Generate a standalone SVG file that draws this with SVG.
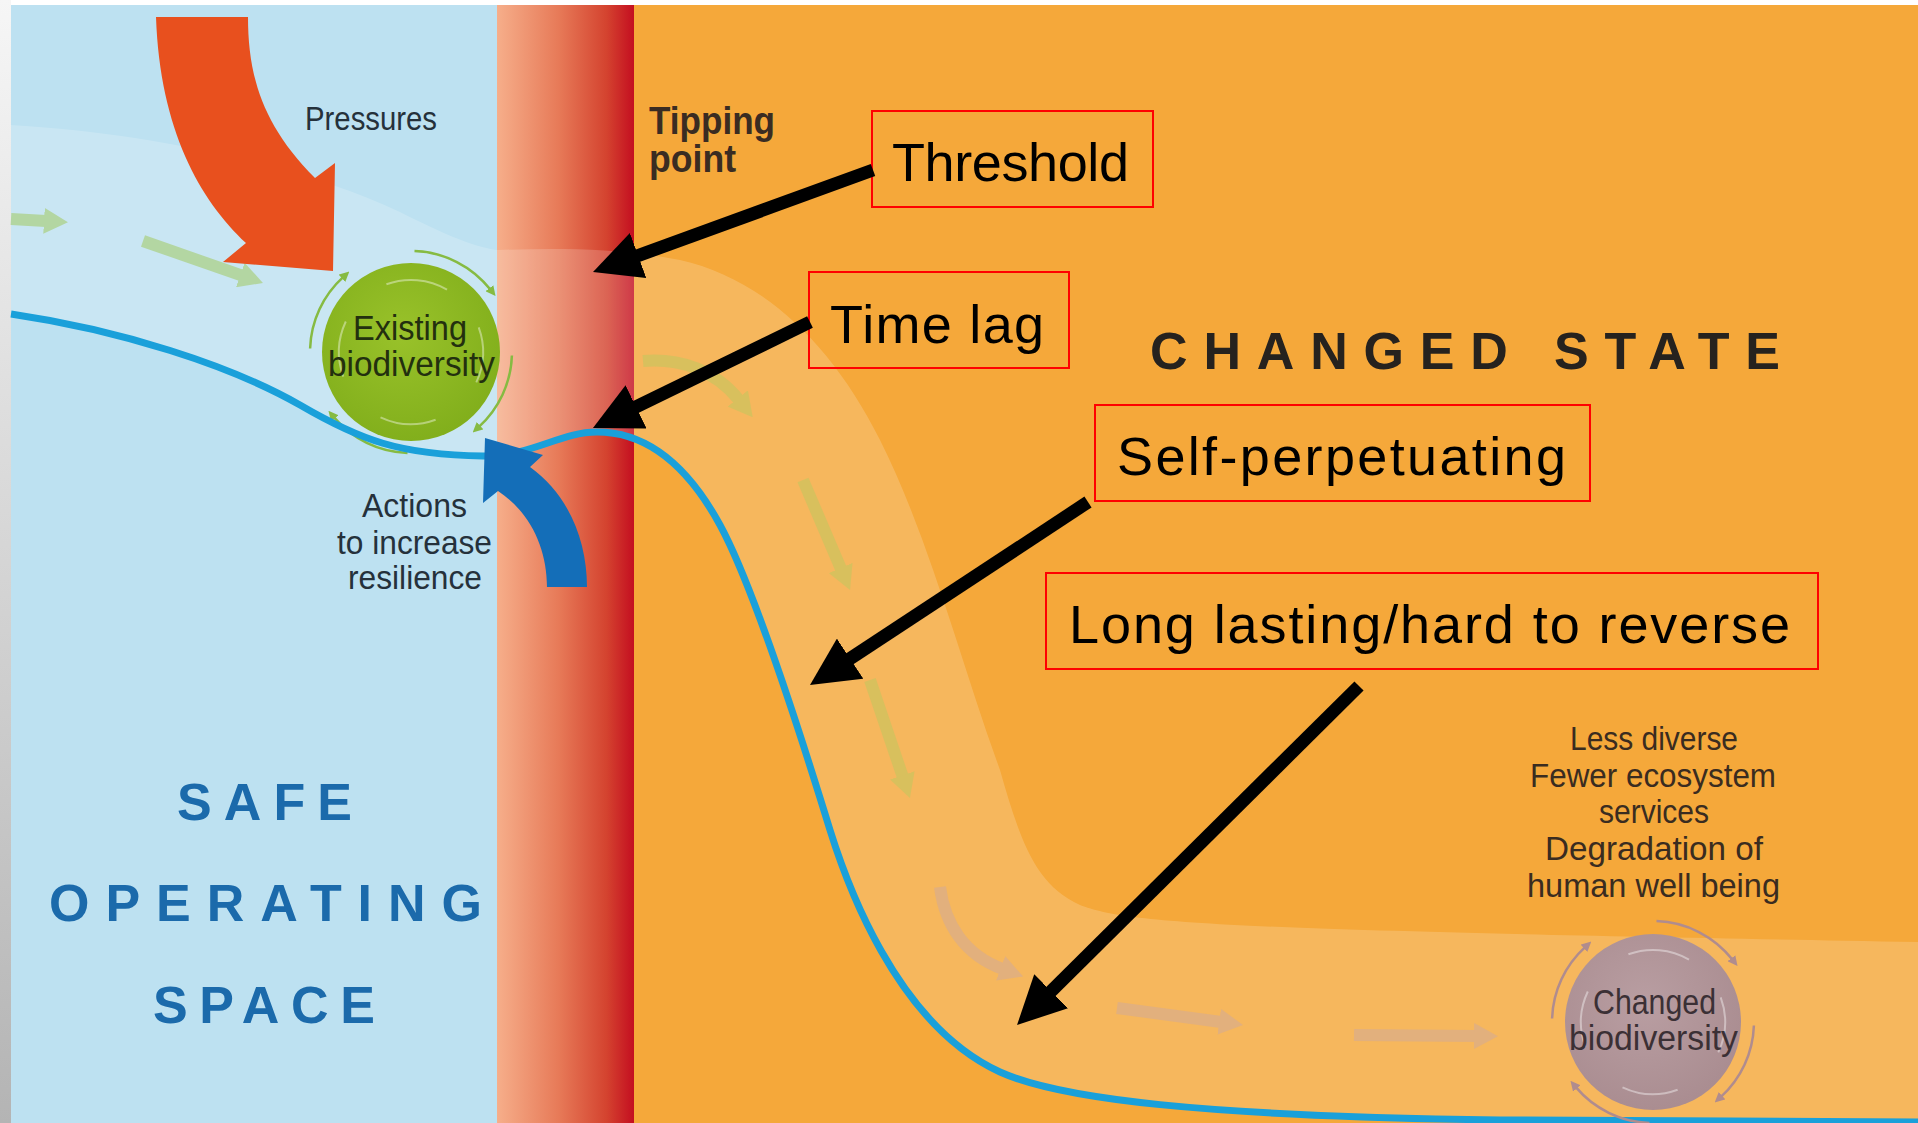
<svg xmlns="http://www.w3.org/2000/svg" width="1918" height="1123" viewBox="0 0 1918 1123">
<defs>
<linearGradient id="redBand" x1="0" y1="0" x2="1" y2="0">
<stop offset="0" stop-color="#f6ae8a"/>
<stop offset="0.45" stop-color="#e77a58"/>
<stop offset="0.8" stop-color="#d4432f"/>
<stop offset="1" stop-color="#c40e20"/>
</linearGradient>
<linearGradient id="edge" x1="0" y1="0" x2="0" y2="1">
<stop offset="0" stop-color="#f6f6f6"/>
<stop offset="1" stop-color="#b4b4b4"/>
</linearGradient>
<radialGradient id="greenFill" cx="0.45" cy="0.4" r="0.6">
<stop offset="0" stop-color="#99c22a"/>
<stop offset="1" stop-color="#82af1c"/>
</radialGradient>
<radialGradient id="mauveFill" cx="0.45" cy="0.4" r="0.6">
<stop offset="0" stop-color="#b99ea2"/>
<stop offset="1" stop-color="#aa8d91"/>
</radialGradient>
<marker id="blackHead" markerUnits="userSpaceOnUse" markerWidth="48" markerHeight="48" viewBox="0 0 48 48" refX="3" refY="24" orient="auto">
<path d="M0,0 L48,24 L0,48 Z" fill="#000"/>
</marker>
<marker id="fhB" markerUnits="userSpaceOnUse" markerWidth="24" markerHeight="26" viewBox="0 0 24 26" refX="2" refY="13" orient="auto">
<path d="M0,0 L24,13 L0,26 Z" fill="#b3d6a2"/>
</marker>
<marker id="fhG" markerUnits="userSpaceOnUse" markerWidth="24" markerHeight="26" viewBox="0 0 24 26" refX="2" refY="13" orient="auto">
<path d="M0,0 L24,13 L0,26 Z" fill="#cfc35e"/>
</marker>
<marker id="fhT" markerUnits="userSpaceOnUse" markerWidth="24" markerHeight="26" viewBox="0 0 24 26" refX="2" refY="13" orient="auto">
<path d="M0,0 L24,13 L0,26 Z" fill="#dcae88"/>
</marker>
<marker id="arcHG" markerUnits="userSpaceOnUse" markerWidth="10" markerHeight="10" viewBox="0 0 10 10" refX="2" refY="5" orient="auto">
<path d="M0,0 L10,5 L0,10 Z" fill="#86bb42"/>
</marker>
<marker id="arcHM" markerUnits="userSpaceOnUse" markerWidth="10" markerHeight="10" viewBox="0 0 10 10" refX="2" refY="5" orient="auto">
<path d="M0,0 L10,5 L0,10 Z" fill="#b08c8e"/>
</marker>
</defs>
<style>
text{font-family:"Liberation Sans",Arial,sans-serif}
.dark{fill:#25313b;font-size:34px}
.circ{fill:#23300f;font-size:35px}
.circM{fill:#3b3035;font-size:35px}
.brown{fill:#3a2c20;font-size:33px}
.tip{fill:#3a2c22;font-size:38px;font-weight:bold}
.safe{fill:#1b6aab;font-size:52px;font-weight:bold}
.state{fill:#26221e;font-size:52px;font-weight:bold}
.ann{font-size:54px;fill:#000}
.box{fill:none;stroke:#ff0000;stroke-width:2}
.conn{stroke:#000;stroke-width:13;fill:none;marker-end:url(#blackHead)}
.flowB{stroke:#b3d6a2;stroke-width:12;fill:none;marker-end:url(#fhB)}
.flowG{stroke:#cfc35e;stroke-width:12;fill:none;marker-end:url(#fhG);opacity:0.75}
.flowT{stroke:#dcae88;stroke-width:12;fill:none;marker-end:url(#fhT);opacity:0.75}
.arcG{fill:none;stroke:#86bb42;stroke-width:2.5;marker-end:url(#arcHG)}
.arcM{fill:none;stroke:#b08c8e;stroke-width:2.5;marker-end:url(#arcHM)}
.inner{fill:none;stroke:#ffffff;stroke-opacity:0.4;stroke-width:2}
</style>

<g id="background">
<rect x="0" y="0" width="1918" height="1123" fill="#ffffff"/>
<rect x="0" y="0" width="11" height="1123" fill="url(#edge)"/>
<rect x="11" y="5" width="486" height="1118" fill="#bde1f1"/>
<rect x="497" y="5" width="137" height="1118" fill="url(#redBand)"/>
<rect x="634" y="5" width="1284" height="1118" fill="#f5a83a"/>
</g>

<g id="flow-band">
<path d="M11,125 C150,133 300,165 400,212 C440,232 470,246 497,250 C560,248 620,248 680,260 C760,278 830,340 880,440 C930,540 960,660 1000,770 C1020,840 1035,885 1080,905 C1130,925 1250,930 1918,942 L1918,1122 L1500,1120 C1200,1116 1060,1099 1000,1072 C895,1024 845,878 830,830 C790,700 750,580 720,525 C690,470 650,432 597,432 C560,432 530,456 483,456 C400,455 360,440 300,405 C230,365 120,330 11,314 Z" fill="#ffffff" fill-opacity="0.18"/>
</g>

<g id="flow-arrows">
<path class="flowB" d="M11,219 L46,221"/>
<path class="flowB" d="M143,241 L242.2,275.7"/>
<path class="flowG" d="M643,361 C680,358 715,370 739,400"/>
<path class="flowG" d="M803,480 L841.4,569.8"/>
<path class="flowG" d="M870,680 L902.9,777.2"/>
<path class="flowT" d="M940,887 C945,925 965,955 1002.5,968.9"/>
<path class="flowT" d="M1117,1008 L1221.2,1022"/>
<path class="flowT" d="M1354,1035 L1476,1036"/>
</g>

<g id="existing-biodiversity">
<circle cx="411" cy="352" r="89" fill="url(#greenFill)"/>
<path class="arcG" d="M414.5,251.1 A101,101 0 0 1 490.6,289.8"/>
<path class="arcG" d="M511.9,355.5 A101,101 0 0 1 478.6,427.1"/>
<path class="arcG" d="M407.5,452.9 A101,101 0 0 1 333.6,416.9"/>
<path class="arcG" d="M310.1,348.5 A101,101 0 0 1 343.4,276.9"/>
<path class="inner" d="M386.4,284.3 A72,72 0 0 1 447,289.6"/>
<path class="inner" d="M478.7,327.4 A72,72 0 0 1 476.3,382.4"/>
<path class="inner" d="M435.6,419.7 A72,72 0 0 1 380.5,417.3"/>
<path class="inner" d="M343.3,376.6 A72,72 0 0 1 345.8,321.5"/>
<text class="circ" x="353" y="340" textLength="114" lengthAdjust="spacingAndGlyphs">Existing</text>
<text class="circ" x="328" y="376" textLength="167" lengthAdjust="spacingAndGlyphs">biodiversity</text>
</g>

<g id="state-curve">
<path d="M11,314 C120,330 230,365 300,405 C360,440 400,455 483,456 C530,457 560,432 597,432 C650,432 690,470 720,525 C750,580 790,700 830,830 C845,878 895,1024 1000,1072 C1060,1099 1200,1116 1500,1120 L1918,1122" fill="none" stroke="#1aa0da" stroke-width="7"/>
</g>

<g id="pressures">
<path d="M156,17 L248,17 C248,75 262,125 315,178 L335,163 L333,271 L223,262 L246,243 C200,200 160,130 156,17 Z" fill="#e8501e"/>
<text class="dark" x="305" y="130" textLength="132" lengthAdjust="spacingAndGlyphs">Pressures</text>
</g>

<g id="actions">
<path d="M547,587 C547,548 530,512 498,491 L483,503 L485,438 L543,455 L530,467 C568,494 587,540 587,587 Z" fill="#146eb8"/>
<text class="dark" x="362" y="517" textLength="105" lengthAdjust="spacingAndGlyphs">Actions</text>
<text class="dark" x="337" y="554" textLength="155" lengthAdjust="spacingAndGlyphs">to increase</text>
<text class="dark" x="348" y="589" textLength="134" lengthAdjust="spacingAndGlyphs">resilience</text>
</g>

<g id="tipping-point">
<text class="tip" x="649" y="134" textLength="126" lengthAdjust="spacingAndGlyphs">Tipping</text>
<text class="tip" x="649" y="172" textLength="87" lengthAdjust="spacingAndGlyphs">point</text>
</g>

<g id="safe-operating-space">
<text class="safe" x="177" y="820" textLength="175">SAFE</text>
<text class="safe" x="49" y="921" textLength="433">OPERATING</text>
<text class="safe" x="153" y="1023" textLength="222">SPACE</text>
</g>

<g id="changed-state">
<text class="state" x="1150" y="369" textLength="630">CHANGED STATE</text>
</g>

<g id="outcomes">
<text class="brown" x="1570" y="750" textLength="168" lengthAdjust="spacingAndGlyphs">Less diverse</text>
<text class="brown" x="1530" y="787" textLength="246" lengthAdjust="spacingAndGlyphs">Fewer ecosystem</text>
<text class="brown" x="1599" y="823" textLength="110" lengthAdjust="spacingAndGlyphs">services</text>
<text class="brown" x="1545" y="860" textLength="218" lengthAdjust="spacingAndGlyphs">Degradation of</text>
<text class="brown" x="1527" y="897" textLength="253" lengthAdjust="spacingAndGlyphs">human well being</text>
</g>

<g id="changed-biodiversity">
<circle cx="1653" cy="1022" r="88" fill="url(#mauveFill)"/>
<path class="arcM" d="M1656.5,921.1 A101,101 0 0 1 1732.6,959.8"/>
<path class="arcM" d="M1753.9,1025.5 A101,101 0 0 1 1720.6,1097.1"/>
<path class="arcM" d="M1649.5,1122.9 A101,101 0 0 1 1575.6,1086.9"/>
<path class="arcM" d="M1552.1,1018.5 A101,101 0 0 1 1585.4,946.9"/>
<path class="inner" d="M1628.4,954.3 A72,72 0 0 1 1689,959.6"/>
<path class="inner" d="M1720.7,997.4 A72,72 0 0 1 1718.3,1052.4"/>
<path class="inner" d="M1677.6,1089.7 A72,72 0 0 1 1622.5,1087.3"/>
<path class="inner" d="M1585.3,1046.6 A72,72 0 0 1 1587.8,991.5"/>
<text class="circM" x="1593" y="1014" textLength="123" lengthAdjust="spacingAndGlyphs">Changed</text>
<text class="circM" x="1569" y="1050" textLength="169" lengthAdjust="spacingAndGlyphs">biodiversity</text>
</g>

<g id="threshold">
<rect class="box" x="872" y="111" width="281" height="96"/>
<text class="ann" x="892" y="181" textLength="237">Threshold</text>
</g>
<g id="time-lag">
<rect class="box" x="809" y="272" width="260" height="96"/>
<text class="ann" x="830" y="343" textLength="214">Time lag</text>
</g>
<g id="self-perpetuating">
<rect class="box" x="1095" y="405" width="495" height="96"/>
<text class="ann" x="1117" y="475" textLength="449">Self-perpetuating</text>
</g>
<g id="long-lasting">
<rect class="box" x="1046" y="573" width="772" height="96"/>
<text class="ann" x="1069" y="643" textLength="721">Long lasting/hard to reverse</text>
</g>

<g id="connectors">
<path class="conn" d="M873,170 L635.3,256.6"/>
<path class="conn" d="M810,322 L633.4,408.2"/>
<path class="conn" d="M1088,502 L847.6,660.3"/>
<path class="conn" d="M1359,686 L1049,993.3"/>
</g>
</svg>
